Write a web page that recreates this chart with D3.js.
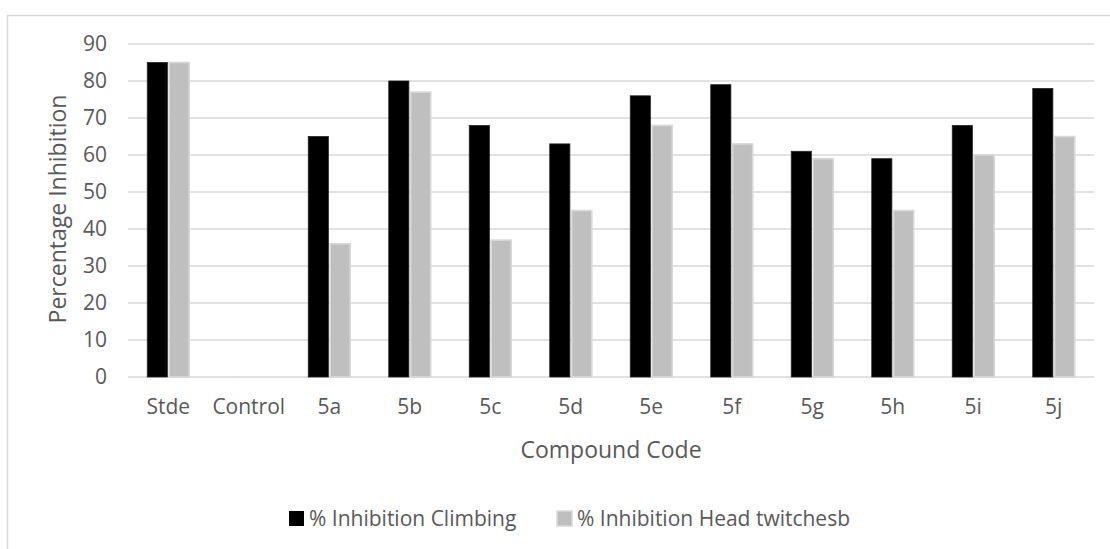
<!DOCTYPE html>
<html>
<head>
<meta charset="utf-8">
<script src="https://cdn.jsdelivr.net/npm/d3@7"></script>
<style>
  body { margin: 0; background: #fff; }
  text { font-family: "Open Sans", sans-serif; fill: #595959; }
</style>
</head>
<body>
<svg id="chart" width="1110" height="549"></svg>
<script>
// data
const categories = ["Stde", "Control", "5a", "5b", "5c", "5d", "5e", "5f", "5g", "5h", "5i", "5j"];
const seriesNames = ["% Inhibition Climbing", "% Inhibition Head twitchesb"];
const climbing = [85, 0, 65, 80, 68, 63, 76, 79, 61, 59, 68, 78];
const headTwitches = [85, 0, 36, 77, 37, 45, 68, 63, 59, 45, 60, 65];
const yTicks = [0, 10, 20, 30, 40, 50, 60, 70, 80, 90];

const seriesFill = ["#000000", "#bfbfbf"];
const seriesStroke = ["#262626", "#d9d9d9"];

const margin = { left: 128, right: 16, top: 44, bottom: 172 };
const width = 1110, height = 549;

const svg = d3.select("#chart");

// outer chart border (only top and left show in the crop)
svg.append("line")
    .attr("x1", 7).attr("x2", width).attr("y1", 15.5).attr("y2", 15.5)
    .attr("stroke", "#d9d9d9").attr("stroke-width", 1.5);
svg.append("line")
    .attr("x1", 7.5).attr("x2", 7.5).attr("y1", 15).attr("y2", height)
    .attr("stroke", "#d9d9d9").attr("stroke-width", 1.5);

const x0 = d3.scaleBand()
    .domain(categories)
    .range([margin.left, width - margin.right]);

const x1 = d3.scaleBand()
    .domain(seriesNames)
    .range([0, 42])
    .paddingInner(0.08);

const y = d3.scaleLinear()
    .domain([0, 90])
    .range([377, 44]);

// gridlines
svg.append("g")
    .selectAll("line")
    .data(yTicks)
    .join("line")
    .attr("x1", margin.left)
    .attr("x2", width - margin.right)
    .attr("y1", d => y(d))
    .attr("y2", d => y(d))
    .attr("stroke", "#d9d9d9")
    .attr("stroke-width", 1.4);

// y tick labels
svg.append("g")
    .selectAll("text")
    .data(yTicks)
    .join("text")
    .attr("x", 107)
    .attr("y", d => y(d))
    .attr("dy", "0.35em")
    .attr("text-anchor", "end")
    .style("font-size", "21px")
    .text(d => d);

// bars
const rows = categories.map((c, i) => ({ cat: c, vals: [climbing[i], headTwitches[i]] }));
const groups = svg.append("g")
    .selectAll("g")
    .data(rows)
    .join("g")
    .attr("transform", d => `translate(${x0(d.cat) + x0.bandwidth() / 2 - 21},0)`);

groups.selectAll("rect")
    .data(d => d.vals.map((v, k) => ({ name: seriesNames[k], k: k, v: v })))
    .join("rect")
    .filter(d => d.v > 0)
    .attr("x", d => x1(d.name))
    .attr("width", x1.bandwidth())
    .attr("y", d => y(d.v))
    .attr("height", d => y(0) - y(d.v))
    .attr("fill", d => seriesFill[d.k])
    .attr("stroke", d => seriesStroke[d.k])
    .attr("stroke-width", d => d.k === 1 ? 1.6 : 0.8);

// x tick labels
svg.append("g")
    .selectAll("text")
    .data(categories)
    .join("text")
    .attr("x", d => x0(d) + x0.bandwidth() / 2)
    .attr("y", 414)
    .attr("text-anchor", "middle")
    .style("font-size", "21px")
    .text(d => d);

// axis titles
svg.append("text")
    .attr("x", 611)
    .attr("y", 458)
    .attr("text-anchor", "middle")
    .style("font-size", "23px")
    .text("Compound Code");

svg.append("text")
    .attr("transform", "translate(66,209) rotate(-90)")
    .attr("text-anchor", "middle")
    .style("font-size", "23px")
    .text("Percentage Inhibition");

// legend
const legendX = [289, 557];
const legend = svg.append("g")
    .selectAll("g")
    .data(seriesNames)
    .join("g")
    .attr("transform", (d, i) => `translate(${legendX[i]},511)`);

legend.append("rect")
    .attr("width", 15)
    .attr("height", 15)
    .attr("fill", (d, i) => seriesFill[i])
    .attr("stroke", (d, i) => i === 1 ? "#d9d9d9" : "none")
    .attr("stroke-width", 1.5);

legend.append("text")
    .attr("x", 20)
    .attr("y", 15)
    .style("font-size", "21px")
    .text(d => d);
</script>
</body>
</html>
